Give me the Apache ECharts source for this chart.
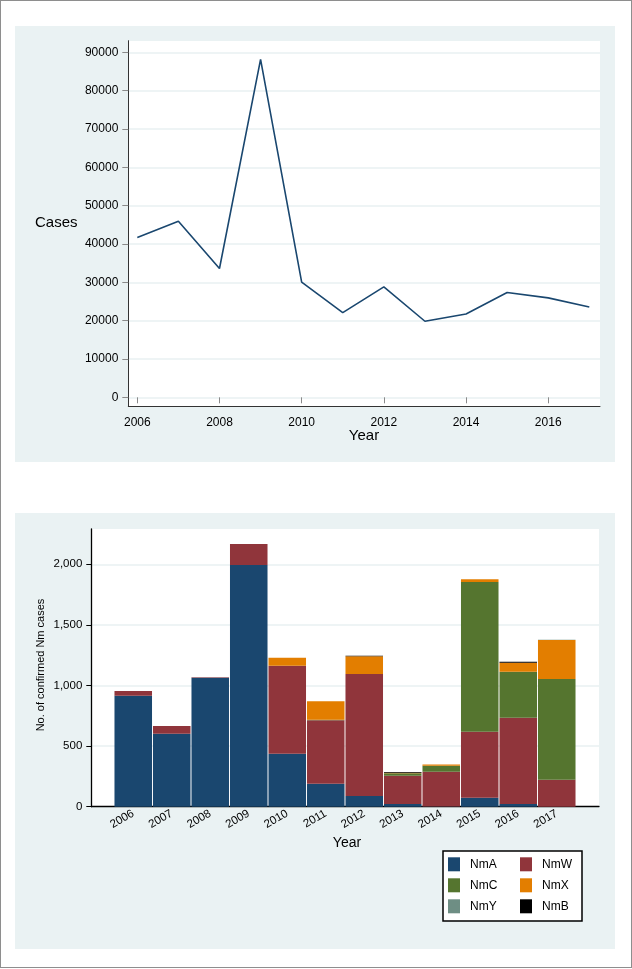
<!DOCTYPE html>
<html>
<head>
<meta charset="utf-8">
<script src="https://cdn.jsdelivr.net/npm/echarts@6/dist/echarts.min.js"></script>
<style>
  html, body { margin: 0; padding: 0; background: #fff; }
  #wrap { position: relative; width: 632px; height: 969px; }
  .abs { position: absolute; }
  #frame { left: 0; top: 0; width: 632px; height: 968px; box-sizing: border-box; border: 1px solid #8e8e8e; }
  .panel { background: #eaf2f3; }
  .plot { background: #ffffff; }
  #chart { left: 0; top: 0; width: 632px; height: 969px; }
</style>
</head>
<body>
<div id="wrap">
  <div id="frame" class="abs"></div>
  <div class="abs panel" style="left:15px;top:26px;width:600px;height:436px;"></div>
  <div class="abs plot" style="left:128px;top:41px;width:472px;height:365px;"></div>
  <div class="abs panel" style="left:15px;top:513px;width:600px;height:436px;"></div>
  <div class="abs plot" style="left:91px;top:529px;width:508px;height:278px;"></div>
  <div id="chart" class="abs"></div>
</div>
<script>
// ---- data ----
const years = ['2006','2007','2008','2009','2010','2011','2012','2013','2014','2015','2016','2017'];
const cases = [41700, 45950, 33600, 88170, 30030, 22100, 28800, 19840, 21750, 27340, 25930, 23580];

const nmA = [915, 602, 1064, 1995, 437, 190, 88, 22, 2, 74, 22, 0];
const nmW = [40, 64, 3, 172, 726, 523, 1007, 234, 287, 545, 712, 223];
const nmC = [0, 0, 0, 0, 0, 4, 0, 19, 49, 1235, 380, 831];
const nmX = [0, 0, 0, 0, 66, 153, 146, 6, 10, 22, 74, 321];
const nmY = [0, 0, 0, 0, 0, 0, 0, 0, 0, 0, 0, 3];
const nmB = [0, 0, 0, 0, 0, 0, 4, 5, 0, 0, 8, 0];

const serogroups = ['NmA', 'NmW', 'NmC', 'NmX', 'NmY', 'NmB'];
const serogroupValues = [nmA, nmW, nmC, nmX, nmY, nmB];
const serogroupColors = ['#1a476f', '#90353b', '#55752f', '#e37e00', '#6e8e84', '#000000'];

const FONT = 'Arial, "Liberation Sans", sans-serif';

const chart = echarts.init(document.getElementById('chart'), null, { renderer: 'canvas' });

function lineAxis(gridIndex, color, width) {
  return {
    type: 'value', gridIndex, min: 0, max: 1,
    axisLine: { show: true, onZero: false, lineStyle: { color, width } },
    axisTick: { show: false }, axisLabel: { show: false }, splitLine: { show: false }
  };
}
function hiddenAxis(gridIndex, type, extra) {
  return Object.assign({ type, gridIndex, show: false, splitLine: { show: false } }, extra || {});
}
function legendColumn(left, names) {
  return {
    left, top: 857.3, orient: 'vertical', padding: 0,
    icon: 'rect', itemWidth: 12, itemHeight: 14, itemGap: 7,
    selectedMode: false,
    textStyle: { fontSize: 12, color: '#000', fontFamily: FONT, padding: [0, 0, 0, 5] },
    data: names
  };
}

const option = {
  animation: false,
  textStyle: { fontFamily: FONT },
  grid: [
    { left: 128.3, top: 40.7, width: 471.7, height: 365.3, outerBoundsMode: 'none' },
    { left: 128.3, top: 52.3, width: 471.7, height: 345, outerBoundsMode: 'none' },
    { left: 137.3, top: 40.7, width: 452, height: 365.3, outerBoundsMode: 'none' },
    { left: 91.3, top: 529, width: 507.7, height: 277.7, outerBoundsMode: 'none' },
    { left: 91.3, top: 564.3, width: 507.7, height: 242.4, outerBoundsMode: 'none' },
    { left: 114, top: 529, width: 462, height: 277.7, outerBoundsMode: 'none' }
  ],
  xAxis: [
    lineAxis(0, '#333', 1),
    hiddenAxis(1, 'value'),
    {
      type: 'category', gridIndex: 2, data: years, boundaryGap: false,
      axisLine: { show: false },
      axisTick: { show: true, interval: 1, length: 6, lineStyle: { color: '#8a8a8a' } },
      axisLabel: { interval: 1, fontSize: 12, color: '#000', margin: 11, fontFamily: FONT },
      splitLine: { show: false }
    },
    lineAxis(3, '#000', 1.3),
    hiddenAxis(4, 'value'),
    {
      type: 'category', gridIndex: 5, data: years,
      axisLine: { show: false }, axisTick: { show: false },
      axisLabel: { interval: 0, rotate: 30, fontSize: 11.5, color: '#000', margin: 6, fontFamily: FONT },
      splitLine: { show: false }
    }
  ],
  yAxis: [
    lineAxis(0, '#333', 1),
    {
      type: 'value', gridIndex: 1, min: 0, max: 90000, interval: 10000,
      axisLine: { show: false },
      axisTick: { show: true, length: 6, lineStyle: { color: '#8a8a8a' } },
      axisLabel: { fontSize: 12, color: '#000', margin: 10, fontFamily: FONT,
        formatter: v => String(v) },
      splitLine: { show: true, lineStyle: { color: '#e8f0f2', width: 1.5 } }
    },
    hiddenAxis(2, 'value', { min: -2270, max: 93026 }),
    lineAxis(3, '#000', 1.3),
    {
      type: 'value', gridIndex: 4, min: 0, max: 2000, interval: 500,
      axisLine: { show: false },
      axisTick: { show: true, length: 5, lineStyle: { color: '#000' } },
      axisLabel: { fontSize: 11.5, color: '#000', margin: 9, fontFamily: FONT,
        formatter: v => v.toLocaleString('en-US') },
      splitLine: { show: true, lineStyle: { color: '#e8f0f2', width: 1.5 } }
    },
    hiddenAxis(5, 'value', { min: 0, max: 2291 })
  ],
  legend: [
    legendColumn(448, serogroups.filter((n, i) => i % 2 === 0)),
    legendColumn(520, serogroups.filter((n, i) => i % 2 === 1))
  ],
  graphic: [
    { type: 'rect', z: -1, shape: { x: 443, y: 851, width: 139, height: 70 },
      style: { fill: '#fff', stroke: '#000', lineWidth: 1.5 } },
    { type: 'text', x: 35, y: 223, style: { text: 'Cases', fontSize: 15, fill: '#000', fontFamily: FONT, textAlign: 'left', textVerticalAlign: 'middle' } },
    { type: 'text', x: 364, y: 436, style: { text: 'Year', fontSize: 15, fill: '#000', fontFamily: FONT, textAlign: 'center', textVerticalAlign: 'middle' } },
    { type: 'text', x: 347, y: 843, style: { text: 'Year', fontSize: 14, fill: '#000', fontFamily: FONT, textAlign: 'center', textVerticalAlign: 'middle' } },
    { type: 'text', x: 41, y: 665, rotation: Math.PI / 2, style: { text: 'No. of confirmed Nm cases', fontSize: 11, fill: '#000', fontFamily: FONT, textAlign: 'center', textVerticalAlign: 'middle' } }
  ],
  series: [
    {
      type: 'line', name: 'Cases', xAxisIndex: 2, yAxisIndex: 2, data: cases,
      showSymbol: false, symbol: 'none',
      lineStyle: { color: '#1a476f', width: 1.6 }, itemStyle: { color: '#1a476f' }
    }
  ].concat(serogroups.map((n, i) => ({
    type: 'bar', name: n, stack: 'nm', xAxisIndex: 5, yAxisIndex: 5,
    data: serogroupValues[i], barCategoryGap: '2.5%',
    itemStyle: { color: serogroupColors[i] },
    emphasis: { disabled: true }
  })))
};

chart.setOption(option);
</script>
</body>
</html>
